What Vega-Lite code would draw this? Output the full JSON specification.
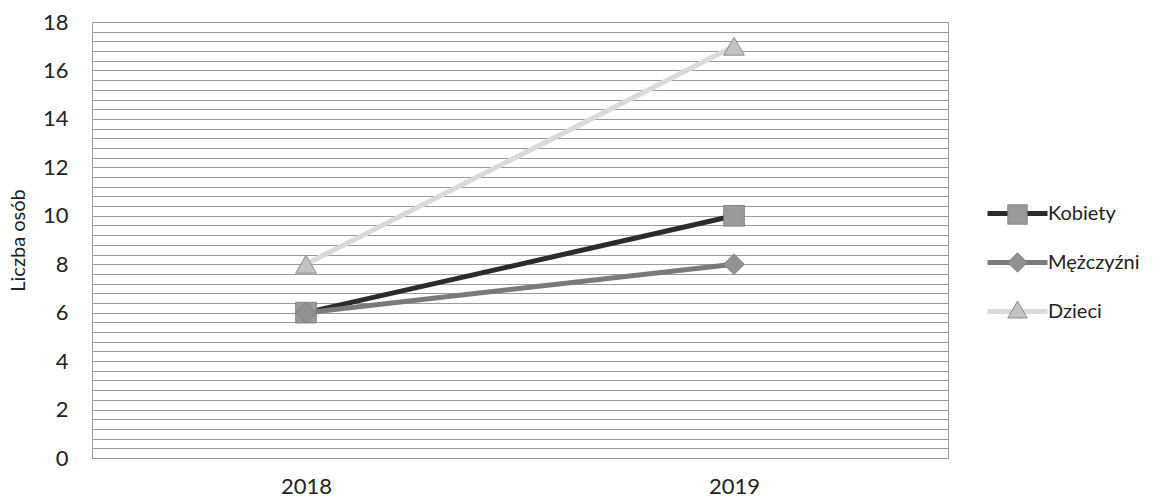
{
  "$schema": "https://vega.github.io/schema/vega-lite/v6.json",
  "width": 856,
  "height": 436,
  "autosize": {"type": "none"},
  "padding": {"left": 92, "top": 22, "right": 208, "bottom": 41},
  "background": "white",
  "config": {
    "font": "Lato",
    "view": {"stroke": "#999", "strokeWidth": 1}
  },
  "data": {"values": [
    {"rok": "2018", "grupa": "Kobiety", "liczba": 6},
    {"rok": "2019", "grupa": "Kobiety", "liczba": 10},
    {"rok": "2018", "grupa": "Mężczyźni", "liczba": 6},
    {"rok": "2019", "grupa": "Mężczyźni", "liczba": 8},
    {"rok": "2018", "grupa": "Dzieci", "liczba": 8},
    {"rok": "2019", "grupa": "Dzieci", "liczba": 17}
  ]},
  "encoding": {
    "x": {"field": "rok", "type": "ordinal", "scale": {"type": "point", "padding": 0.5},
      "axis": {"title": null, "labelAngle": 0, "labelFontSize": 22, "labelColor": "#222", "ticks": false, "labelPadding": 18, "domainColor": "#999", "grid": false}},
    "y": {"field": "liczba", "type": "quantitative", "scale": {"domain": [0, 18], "nice": false},
      "axis": {"title": "Liczba osób", "titleFontSize": 20, "titleFontWeight": "normal", "titleColor": "#222", "titlePadding": 14,
        "values": [0,0.4,0.8,1.2,1.6,2,2.4,2.8,3.2,3.6,4,4.4,4.8,5.2,5.6,6,6.4,6.8,7.2,7.6,8,8.4,8.8,9.2,9.6,10,10.4,10.8,11.2,11.6,12,12.4,12.8,13.2,13.6,14,14.4,14.8,15.2,15.6,16,16.4,16.8,17.2,17.6,18],
        "labelExpr": "datum.value % 2 == 0 ? format(datum.value, 'd') : ''",
        "labelFontSize": 22, "labelColor": "#222", "labelPadding": 24, "ticks": false, "domain": false,
        "grid": true, "gridColor": "#9a9a9a", "gridWidth": 1}}
  },
  "layer": [
    {
      "mark": {"type": "line", "strokeWidth": 5},
      "encoding": {
        "color": {"field": "grupa", "type": "nominal", "sort": ["Kobiety", "Mężczyźni", "Dzieci"],
          "scale": {"range": ["#2b2b2b", "#7a7a7a", "#dadada"]},
          "legend": {"title": null, "orient": "none", "legendX": 893, "legendY": 159, "symbolType": "stroke", "symbolSize": 3600, "symbolStrokeWidth": 5, "labelFontSize": 20, "labelColor": "#222", "rowPadding": 6, "labelOffset": -2}}
      }
    },
    {
      "mark": {"type": "point", "filled": true, "size": 430, "opacity": 1, "stroke": "#777", "strokeWidth": 0.8},
      "encoding": {
        "fill": {"field": "grupa", "type": "nominal",
          "scale": {"domain": ["Kobiety", "Mężczyźni", "Dzieci"], "range": ["#9a9a9a", "#919191", "#c2c2c2"]},
          "legend": {"title": null, "orient": "none", "legendX": 915, "legendY": 182, "symbolSize": 380, "symbolStrokeColor": "#777", "symbolStrokeWidth": 0.8, "labelFontSize": 20, "labelExpr": "''", "rowPadding": 25}},
        "shape": {"field": "grupa", "type": "nominal",
          "scale": {"domain": ["Kobiety", "Mężczyźni", "Dzieci"], "range": ["square", "diamond", "triangle-up"]},
          "legend": {"title": null, "orient": "none", "legendX": 915, "legendY": 182, "symbolSize": 380, "labelFontSize": 20, "labelExpr": "''", "rowPadding": 25}}
      }
    }
  ]
}
